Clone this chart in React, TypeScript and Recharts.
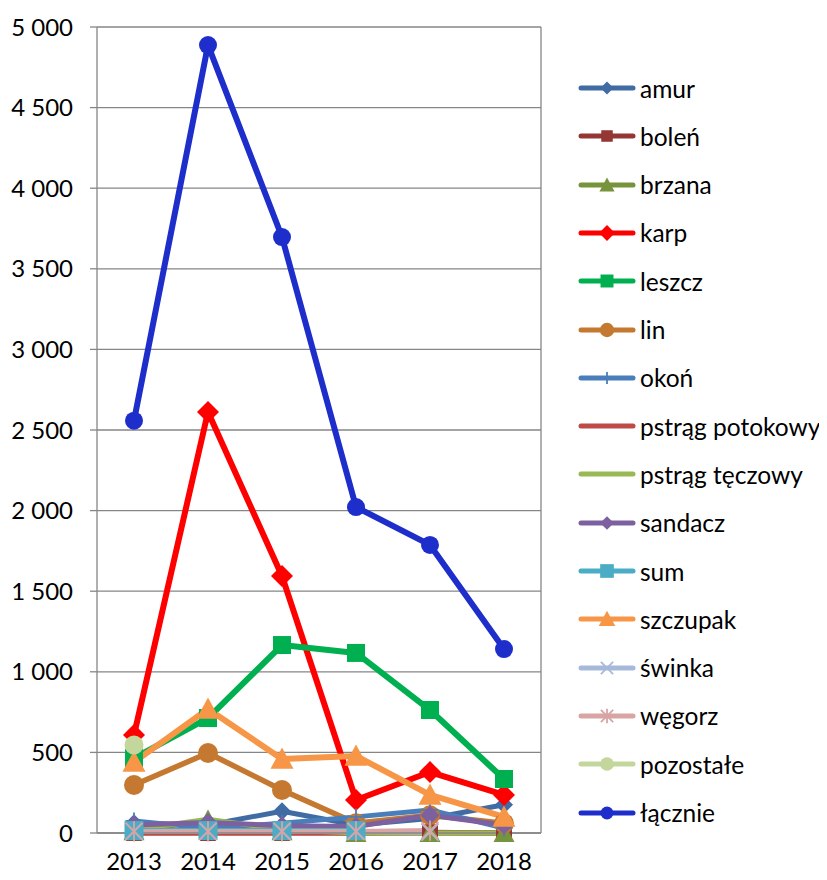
import React from 'react';
import { LineChart, Line, XAxis, YAxis, CartesianGrid, ReferenceLine } from 'recharts';

const years = ['2013', '2014', '2015', '2016', '2017', '2018'];
const yTicks = [0, 500, 1000, 1500, 2000, 2500, 3000, 3500, 4000, 4500, 5000];

const amur = [60, 50, 135, 50, 90, 175];
const bolen = [0, 0, 0, 0, 5, 0];
const brzana = [10, 80, 10, 0, 0, 0];
const karp = [608, 2612, 1594, 205, 378, 236];
const leszcz = [465, 713, 1166, 1117, 763, 335];
const lin = [298, 496, 267, 60, 110, 60];
const okon = [75, 30, 60, 100, 143, 30];
const pstragPotokowy = [0, 0, 0, 0, 0, 0];
const pstragTeczowy = [20, 85, 20, 0, 0, 0];
const sandacz = [50, 65, 45, 40, 110, 50];
const sum = [15, 15, 15, 15, null, null];
const szczupak = [440, 769, 459, 478, 236, 100];
const swinka = [10, 10, 10, 10, 5, null];
const wegorz = [10, 10, 10, 10, 15, null];
const pozostale = [546, null, null, null, null, null];
const lacznie = [2558, 4888, 3697, 2022, 1787, 1141];

type Shape = 'diamond' | 'square' | 'triangle' | 'circle' | 'plus' | 'x' | 'star' | 'none';

interface SeriesDef { key: string; name: string; values: (number | null)[]; color: string; shape: Shape; width: number; size: number; }

const series: SeriesDef[] = [
  { key: 'amur', name: 'amur', values: amur, color: '#416BA3', shape: 'diamond', width: 5, size: 9 },
  { key: 'bolen', name: 'boleń', values: bolen, color: '#943634', shape: 'square', width: 5, size: 8 },
  { key: 'brzana', name: 'brzana', values: brzana, color: '#77933C', shape: 'triangle', width: 5, size: 10.5 },
  { key: 'karp', name: 'karp', values: karp, color: '#FF0000', shape: 'diamond', width: 6, size: 11 },
  { key: 'leszcz', name: 'leszcz', values: leszcz, color: '#00B050', shape: 'square', width: 6, size: 9 },
  { key: 'lin', name: 'lin', values: lin, color: '#C5782F', shape: 'circle', width: 5.5, size: 10 },
  { key: 'okon', name: 'okoń', values: okon, color: '#4A7EBB', shape: 'plus', width: 5, size: 8.5 },
  { key: 'pstragP', name: 'pstrąg potokowy', values: pstragPotokowy, color: '#BE4B48', shape: 'none', width: 5, size: 0 },
  { key: 'pstragT', name: 'pstrąg tęczowy', values: pstragTeczowy, color: '#98B954', shape: 'none', width: 5, size: 0 },
  { key: 'sandacz', name: 'sandacz', values: sandacz, color: '#7D60A0', shape: 'diamond', width: 5, size: 9.5 },
  { key: 'sum', name: 'sum', values: sum, color: '#4BACC6', shape: 'square', width: 5, size: 9.5 },
  { key: 'szczupak', name: 'szczupak', values: szczupak, color: '#F79646', shape: 'triangle', width: 6, size: 11.5 },
  { key: 'swinka', name: 'świnka', values: swinka, color: '#A7B9DA', shape: 'x', width: 5, size: 8.5 },
  { key: 'wegorz', name: 'węgorz', values: wegorz, color: '#D9A4A4', shape: 'star', width: 5, size: 8.5 },
  { key: 'pozostale', name: 'pozostałe', values: pozostale, color: '#C3D69B', shape: 'circle', width: 5, size: 9.5 },
  { key: 'lacznie', name: 'łącznie', values: lacznie, color: '#1E2ECB', shape: 'circle', width: 6, size: 9 },
];

const data = years.map((year, i) => {
  const row: Record<string, any> = { year, idx: i + 0.5 };
  series.forEach(s => { row[s.key] = s.values[i]; });
  return row;
});

const FONT = 'Lato, "Open Sans", sans-serif';
const GRID = '#868686';

function Marker({ cx, cy, shape, size, color }: { cx: number; cy: number; shape: Shape; size: number; color: string }) {
  const s = size;
  switch (shape) {
    case 'diamond':
      return <polygon points={`${cx},${cy - s} ${cx + s},${cy} ${cx},${cy + s} ${cx - s},${cy}`} fill={color} />;
    case 'square':
      return <rect x={cx - s} y={cy - s} width={2 * s} height={2 * s} fill={color} />;
    case 'triangle':
      return <polygon points={`${cx},${cy - s} ${cx + s},${cy + s * 0.85} ${cx - s},${cy + s * 0.85}`} fill={color} />;
    case 'circle':
      return <circle cx={cx} cy={cy} r={s} fill={color} />;
    case 'plus':
      return (
        <g stroke={color} strokeWidth={1.8}>
          <line x1={cx - s} y1={cy} x2={cx + s} y2={cy} />
          <line x1={cx} y1={cy - s} x2={cx} y2={cy + s} />
        </g>
      );
    case 'x':
      return (
        <g stroke={color} strokeWidth={1.8}>
          <line x1={cx - s} y1={cy - s} x2={cx + s} y2={cy + s} />
          <line x1={cx - s} y1={cy + s} x2={cx + s} y2={cy - s} />
        </g>
      );
    case 'star':
      return (
        <g stroke={color} strokeWidth={1.8}>
          <line x1={cx - s} y1={cy - s} x2={cx + s} y2={cy + s} />
          <line x1={cx - s} y1={cy + s} x2={cx + s} y2={cy - s} />
          <line x1={cx} y1={cy - s * 1.2} x2={cx} y2={cy + s * 1.2} />
        </g>
      );
    default:
      return null;
  }
}

const fmt = (v: number) => (v >= 1000 ? `${Math.floor(v / 1000)} ${String(v % 1000).padStart(3, '0')}` : String(v));

const Legend = () => (
  <div style={{ position: 'absolute', left: 568, top: 0 }}>
    {series.map((s, i) => (
      <div key={s.key} style={{ position: 'absolute', left: 0, top: 80 + i * 48.3 - 14, height: 28, display: 'flex', alignItems: 'center', whiteSpace: 'nowrap' }}>
        <svg width={60} height={28}>
          <line x1={5} y1={14} x2={57} y2={14} stroke={s.color} strokeWidth={5} strokeLinecap="round" />
          <Marker cx={31} cy={14} shape={s.shape} size={s.size * 0.72} color={s.color} />
        </svg>
        <span style={{ fontFamily: FONT, fontSize: 24.5, color: '#000', marginLeft: 4 }}>{s.name}</span>
      </div>
    ))}
  </div>
);

export default function App() {
  return (
    <div style={{ position: 'relative', width: 819, height: 872, background: '#fff' }}>
      <LineChart width={819} height={872} data={data} margin={{ top: 19, right: 286, left: 9, bottom: 17 }}>
        <CartesianGrid vertical={false} stroke={GRID} strokeWidth={1.3} />
        <XAxis
          xAxisId="n"
          type="number"
          dataKey="idx"
          domain={[0, 6]}
          ticks={[0, 1, 2, 3, 4, 5, 6]}
          axisLine={false}
          tickLine={{ stroke: GRID, strokeWidth: 1.3 }}
          tickSize={7}
          tick={() => <g />}
          height={0}
        />
        <XAxis
          xAxisId="cat"
          dataKey="year"
          padding={{ left: 37, right: 37 }}
          axisLine={{ stroke: GRID, strokeWidth: 1.3 }}
          tickLine={false}
          tickSize={0}
          tickMargin={20}
          tick={{ fill: '#000', fontSize: 24, fontFamily: FONT }}
          height={30}
        />
        <YAxis
          domain={[0, 5000]}
          ticks={yTicks}
          tickFormatter={fmt}
          width={80}
          axisLine={{ stroke: GRID, strokeWidth: 1.3 }}
          tickLine={{ stroke: GRID, strokeWidth: 1.3 }}
          tickSize={7}
          tickMargin={17}
          tick={{ fill: '#000', fontSize: 24, fontFamily: FONT }}
          interval={0}
        />
        <ReferenceLine xAxisId="n" x={6} stroke={GRID} strokeWidth={1.3} />
        {series.map(s => (
          <Line
            key={s.key}
            xAxisId="cat"
            dataKey={s.key}
            name={s.name}
            stroke={s.color}
            strokeWidth={s.width}
            strokeLinejoin="round"
            isAnimationActive={false}
            connectNulls={false}
            dot={(p: any) =>
              p.cx == null || p.cy == null || p.value == null ? (
                <g key={`${s.key}-${p.index}`} />
              ) : (
                <g key={`${s.key}-${p.index}`}>
                  <Marker cx={p.cx} cy={p.cy} shape={s.shape} size={s.size} color={s.color} />
                </g>
              )
            }
            activeDot={false}
          />
        ))}
      </LineChart>
      <Legend />
    </div>
  );
}
